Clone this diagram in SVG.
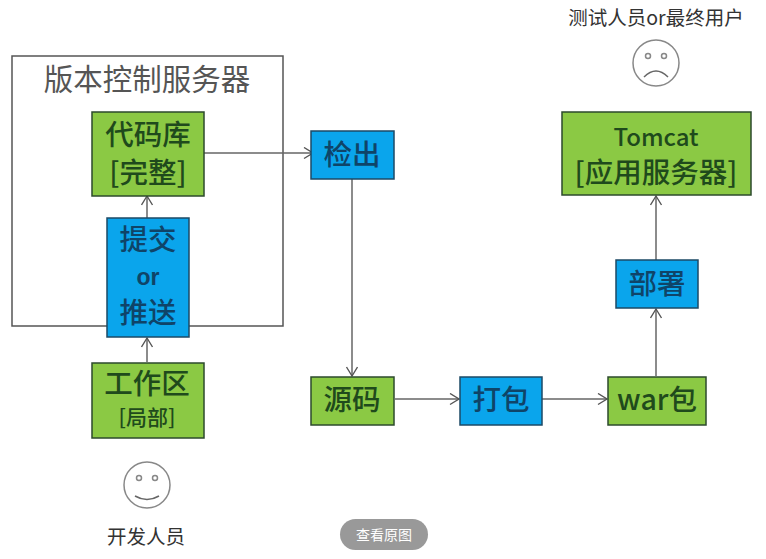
<svg xmlns="http://www.w3.org/2000/svg" width="766" height="559" viewBox="0 0 766 559">
<style>
text{font-family:"Noto Sans CJK SC","Noto Sans","Liberation Sans",sans-serif;text-anchor:middle}
.g{fill:#8bc944;stroke:#2c4a2c;stroke-width:1.5}
.b{fill:#0aa5ec;stroke:#1d4a66;stroke-width:1.5}
.t{font-size:28.5px;font-weight:500;fill:#1f4a1c}
.u{font-size:28.5px;font-weight:500;fill:#0f4468}
.c{fill:none;stroke:#666;stroke-width:1.5}
.f{fill:#fff;stroke:#888;stroke-width:1.5}
.k{font-size:19.5px;fill:#333}
</style>
<defs><marker id="a" markerWidth="14" markerHeight="14" refX="10" refY="6" orient="auto" markerUnits="userSpaceOnUse"><path d="M1 0.5L10 6L1 11.5" fill="none" stroke="#555" stroke-width="1.4"/></marker></defs>
<g id="server"><rect x="12" y="56" width="271" height="270" fill="#fff" stroke="#555" stroke-width="1.5"/><text x="147" y="90" font-size="29.5" fill="#555">版本控制服务器</text></g>
<g id="connectors">
<path class="c" marker-end="url(#a)" d="M204 153H313"/>
<path class="c" marker-end="url(#a)" d="M147 218V196"/>
<path class="c" marker-end="url(#a)" d="M147 362V338"/>
<path class="c" marker-end="url(#a)" d="M352 179V376"/>
<path class="c" marker-end="url(#a)" d="M395 399H459"/>
<path class="c" marker-end="url(#a)" d="M542 399H607"/>
<path class="c" marker-end="url(#a)" d="M656 376V309"/>
<path class="c" marker-end="url(#a)" d="M656 260V196"/>
</g>
<g id="repo"><rect class="g" x="92" y="112" width="112" height="84"/><text class="t" x="148" y="145">代码库</text><text class="t" x="148" y="183">[完整]</text></g>
<g id="commit"><rect class="b" x="107" y="218" width="82" height="119"/><text class="u" x="148" y="250">提交</text><text x="148" y="285" style="font-size:23px;font-weight:700;fill:#0f4468;font-family:'Liberation Sans',sans-serif">or</text><text class="u" x="148" y="323">推送</text></g>
<g id="workspace"><rect class="g" x="92" y="363" width="112" height="75"/><text class="t" x="147" y="394">工作区</text><text class="t" x="147" y="425" style="font-size:21px">[局部]</text></g>
<g id="checkout"><rect class="b" x="311" y="131" width="83" height="48"/><text class="u" x="352" y="165">检出</text></g>
<g id="source"><rect class="g" x="311" y="377" width="83" height="48"/><text class="t" x="352" y="410">源码</text></g>
<g id="package"><rect class="b" x="460" y="377" width="82" height="48"/><text class="u" x="501" y="410">打包</text></g>
<g id="war"><rect class="g" x="608" y="377" width="98" height="48"/><text class="t" x="657" y="410">war包</text></g>
<g id="deploy"><rect class="b" x="616" y="260" width="82" height="48"/><text class="u" x="657" y="294">部署</text></g>
<g id="tomcat"><rect class="g" x="562" y="112" width="189" height="83"/><text class="t" x="656" y="146" style="font-size:24px">Tomcat</text><text class="t" x="656" y="183">[应用服务器]</text></g>
<g id="developer"><circle class="f" cx="147" cy="485" r="23"/><circle class="f" cx="139" cy="478" r="2.5"/><circle class="f" cx="155" cy="478" r="2.5"/><path class="c" d="M135 496Q147 503 159 496"/><text class="k" x="146" y="544">开发人员</text></g>
<g id="tester"><circle class="f" cx="656" cy="63" r="23"/><circle class="f" cx="648" cy="56" r="2.5"/><circle class="f" cx="664" cy="56" r="2.5"/><path class="c" d="M644 77Q656 65 668 77"/><text class="k" x="656" y="25">测试人员or最终用户</text></g>
<g id="view-original"><rect x="340" y="519" width="88" height="31" rx="15.5" fill="#999"/><text x="384" y="540" font-size="14" fill="#fff">查看原图</text></g>
</svg>
